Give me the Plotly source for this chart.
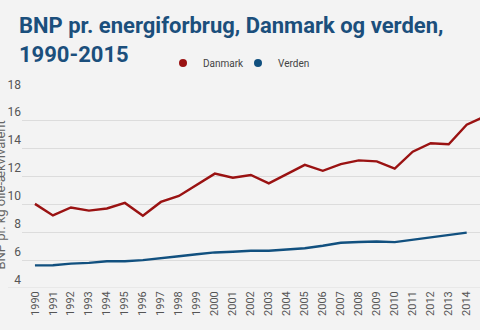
import plotly.graph_objects as go

years = list(range(1990, 2016))
danmark = [10.03, 9.2, 9.77, 9.55, 9.7, 10.1, 9.18, 10.17, 10.6, 11.4, 12.2, 11.9, 12.1, 11.5,
           12.17, 12.83, 12.4, 12.88, 13.15, 13.08, 12.56, 13.77, 14.38, 14.3, 15.7, 16.3]
verden = [5.62, 5.63, 5.75, 5.8, 5.92, 5.92, 6.0, 6.16, 6.28, 6.42, 6.55, 6.6, 6.67, 6.67,
          6.74, 6.85, 7.03, 7.24, 7.3, 7.33, 7.29, 7.47, 7.6, 7.79, 7.97, None]
tick_years = list(range(1990, 2015))
y_ticks = [4, 6, 8, 10, 12, 14, 16, 18]

RED = "#9a1212"
BLUE = "#11507f"
BG = "#f3f3f3"
FONT = "Roboto"

fig = go.Figure()
fig.add_trace(go.Scatter(x=years, y=danmark, mode="lines", name="Danmark",
                         line=dict(color=RED, width=2.4), showlegend=False))
fig.add_trace(go.Scatter(x=years, y=verden, mode="lines", name="Verden",
                         line=dict(color=BLUE, width=2.4), showlegend=False))
# legend entries (circle symbols)
fig.add_trace(go.Scatter(x=[None], y=[None], mode="markers", name="Danmark",
                         marker=dict(color=RED, size=8)))
fig.add_trace(go.Scatter(x=[None], y=[None], mode="markers", name="Verden",
                         marker=dict(color=BLUE, size=8)))

fig.update_layout(
    width=480, height=330,
    margin=dict(l=22, r=0, t=83, b=42),
    paper_bgcolor=BG, plot_bgcolor=BG,
    font=dict(family=FONT, color="#555555"),
    title=dict(text="BNP pr. energiforbrug, Danmark og verden,<br>1990-2015",
               font=dict(family=FONT, size=22, color="#1b4f7c", weight="bold"),
               x=19/480, xanchor="left", xref="container",
               y=1-33/330, yanchor="top", yref="container"),
    legend=dict(orientation="h", x=238/480, xanchor="center", xref="container",
                y=1-63/330, yanchor="middle", yref="container",
                font=dict(size=10, color="#444444"), itemwidth=30,
                entrywidth=30, entrywidthmode="pixels",
                bgcolor="rgba(0,0,0,0)", tracegroupgap=0),
    xaxis=dict(range=[1989.28, 2014.74], tickvals=tick_years,
               ticktext=[str(y) for y in tick_years], tickangle=-90,
               tickfont=dict(size=11, color="#555555"), showgrid=False,
               zeroline=False, showline=False, ticks=""),
    yaxis=dict(range=[4, 18], tickvals=y_ticks, showgrid=True, gridcolor="#dcdcdc",
               gridwidth=1, zeroline=False, ticklabelposition="outside top",
               tickfont=dict(size=12, color="#555555"), ticks=""),
    showlegend=True,
)
fig.add_annotation(text="BNP pr. kg olie-ækvivalent", textangle=-90,
                   xref="paper", yref="paper", x=0, y=1-(191-83)/205, xanchor="center",
                   yanchor="middle", xshift=-21, showarrow=False,
                   font=dict(size=13, color="#666666"))
fig.add_shape(type="line", xref="paper", yref="y", x0=-14/458, x1=1, y0=4, y1=4,
              line=dict(color="#dcdcdc", width=1), layer="below")

fig.write_html("out.html")
